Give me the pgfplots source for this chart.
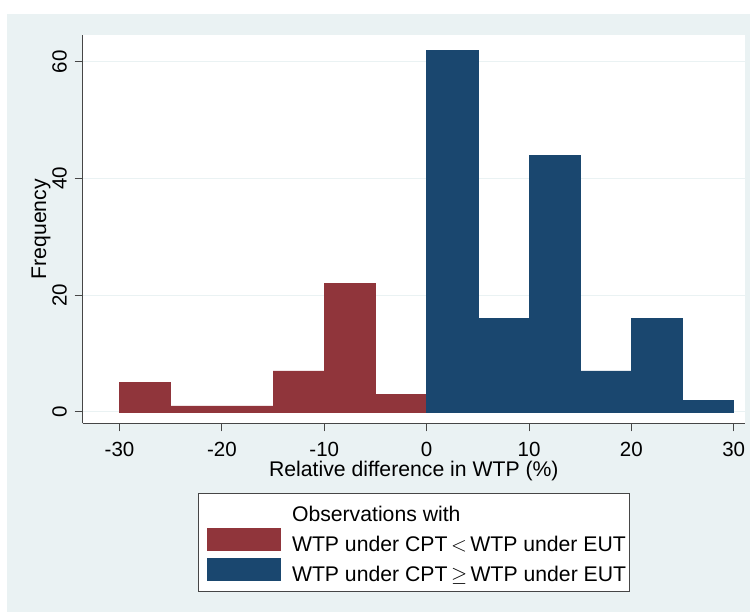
\documentclass[border=0pt]{standalone}
\usepackage{fontspec}
\setmainfont{Liberation Sans}
\usepackage{pgfplots}
\pgfplotsset{compat=1.18}
\definecolor{bgc}{RGB}{234,242,243}
\definecolor{maroonc}{RGB}{144,53,59}
\definecolor{navyc}{RGB}{26,71,111}
\definecolor{axc}{RGB}{70,70,70}
\begin{document}
\begin{tikzpicture}[x=1pt,y=1pt]
\useasboundingbox (0,0) rectangle (750,612);
\fill[white] (0,0) rectangle (750,612);
\fill[bgc] (7,0) rectangle (750,598);
\begin{axis}[
  at={(82.7pt,188.5pt)}, anchor=south west,
  scale only axis, width=662.3pt, height=388.5pt,
  xmin=-33.6, xmax=31.1, ymin=-2.0, ymax=64.6,
  axis background/.style={fill=white},
  axis x line*=bottom, axis y line*=left,
  axis line style={draw=axc, line width=1pt, -},
  xtick={-30,-20,-10,0,10,20,30},
  ytick={0,20,40,60},
  tick align=outside,
  major tick length=8pt,
  tick style={draw=axc, line width=1pt},
  ymajorgrids, grid style={draw=bgc, line width=1.3pt},
  /pgf/number format/assume math mode=true,
  xticklabel style={font=\fontsize{20.5}{24}\selectfont, anchor=base, inner sep=0pt},
  yticklabel style={font=\fontsize{20.5}{24}\selectfont, rotate=90, anchor=base, inner sep=0pt},
  xticklabel shift=25pt,
  yticklabel shift=8pt,
  xlabel={Relative difference in WTP (\%)},
  ylabel={Frequency},
  xlabel style={font=\fontsize{21.2}{25}\selectfont, at={(axis description cs:0.5,-0.1377)}, anchor=base, inner sep=0pt},
  ylabel style={font=\fontsize{21.2}{25}\selectfont, at={(axis description cs:-0.0554,0.5)}, anchor=base, inner sep=0pt},
  legend style={at={(axis description cs:0.1741,-0.1789)}, anchor=north west,
    draw=axc, line width=1pt, fill=white, inner xsep=3pt, inner ysep=8pt,
    row sep=4.5pt,
    nodes={inner sep=0pt, text height=20.5pt, text depth=1.5pt, font=\fontsize{21.2}{25}\selectfont},
    /tikz/every odd column/.append style={column sep=12pt}},
  legend cell align=left,
]
\addlegendimage{empty legend}
\addlegendentry{Observations with}
\addplot[ybar interval, fill=maroonc, draw=maroonc, line width=0.5pt,
  legend image code/.code={\path (0pt,-7.86pt); \fill[maroonc] (5pt,-7.86pt) rectangle (78pt,14.14pt);}]
  coordinates {(-30,5) (-25,1) (-20,1) (-15,7) (-10,22) (-5,3) (0,3)};
\addlegendentry{WTP under CPT\hspace{3.5pt}$<$\hspace{3.5pt}WTP under EUT}
\addplot[ybar interval, fill=navyc, draw=navyc, line width=0.5pt,
  legend image code/.code={\path (0pt,-7.86pt); \fill[navyc] (5pt,-7.86pt) rectangle (78pt,14.14pt);}]
  coordinates {(0,62) (5,16) (10,44) (15,7) (20,16) (25,2) (30,2)};
\addlegendentry{WTP under CPT\hspace{3.5pt}$\geq$\hspace{3.5pt}WTP under EUT}
\end{axis}
\end{tikzpicture}
\end{document}
